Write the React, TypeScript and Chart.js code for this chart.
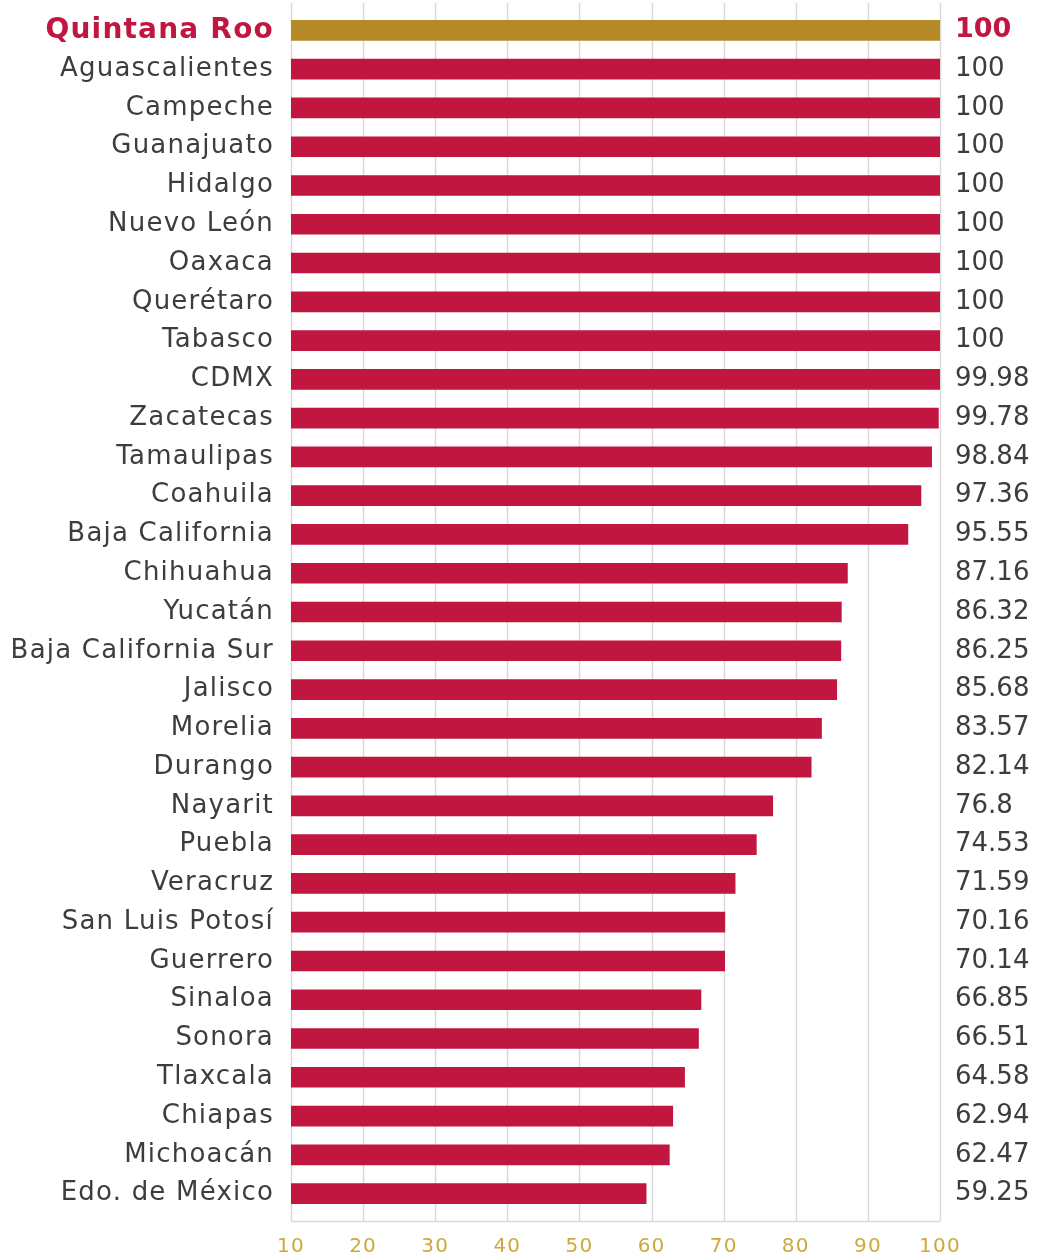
import React, { useEffect, useRef } from "react";
import { Chart, registerables } from "chart.js";

Chart.register(...registerables);

const states: string[] = [
  "Quintana Roo", "Aguascalientes", "Campeche", "Guanajuato", "Hidalgo", "Nuevo León",
  "Oaxaca", "Querétaro", "Tabasco", "CDMX", "Zacatecas", "Tamaulipas", "Coahuila",
  "Baja California", "Chihuahua", "Yucatán", "Baja California Sur", "Jalisco", "Morelia",
  "Durango", "Nayarit", "Puebla", "Veracruz", "San Luis Potosí", "Guerrero", "Sinaloa",
  "Sonora", "Tlaxcala", "Chiapas", "Michoacán", "Edo. de México",
];

const values: number[] = [
  100, 100, 100, 100, 100, 100, 100, 100, 100, 99.98, 99.78, 98.84, 97.36, 95.55,
  87.16, 86.32, 86.25, 85.68, 83.57, 82.14, 76.8, 74.53, 71.59, 70.16, 70.14, 66.85,
  66.51, 64.58, 62.94, 62.47, 59.25,
];

const valueLabels: string[] = [
  "100", "100", "100", "100", "100", "100", "100", "100", "100", "99.98", "99.78", "98.84",
  "97.36", "95.55", "87.16", "86.32", "86.25", "85.68", "83.57", "82.14", "76.8", "74.53",
  "71.59", "70.16", "70.14", "66.85", "66.51", "64.58", "62.94", "62.47", "59.25",
];

const xMin = 10;
const xMax = 100;
const xStep = 10;

const CRIMSON = "#C1163F";
const GOLD = "#B58A27";
const TEXT = "#3d3d3d";
const TICK_GOLD = "#CDA93C";
const FONT = "'DejaVu Sans', sans-serif";

export default function App() {
  const ref = useRef<HTMLCanvasElement | null>(null);

  useEffect(() => {
    if (!ref.current) return;

    const spacingPlugin = {
      id: "spacing",
      beforeDraw(chart: any) {
        chart.ctx.letterSpacing = "1.2px";
      },
    };

    const gridPlugin = {
      id: "customGrid",
      beforeDatasetsDraw(chart: any) {
        const { ctx, chartArea, scales } = chart;
        const xs = scales.x;
        ctx.save();
        ctx.strokeStyle = "#d9d9d9";
        ctx.lineWidth = 1.5;
        for (let v = xMin; v <= xMax; v += xStep) {
          const x = Math.round(xs.getPixelForValue(v)) + 0.5;
          ctx.beginPath();
          ctx.moveTo(x, chartArea.top - 8);
          ctx.lineTo(x, chartArea.bottom + 8);
          ctx.stroke();
        }
        ctx.beginPath();
        ctx.moveTo(xs.getPixelForValue(xMin), chartArea.bottom + 8.5);
        ctx.lineTo(xs.getPixelForValue(xMax), chartArea.bottom + 8.5);
        ctx.stroke();
        ctx.restore();
      },
    };

    const valuePlugin = {
      id: "valueLabels",
      afterDatasetsDraw(chart: any) {
        const { ctx, chartArea, scales } = chart;
        const ys = scales.y;
        ctx.save();
        ctx.letterSpacing = "0px";
        ctx.textAlign = "left";
        ctx.textBaseline = "middle";
        valueLabels.forEach((t, i) => {
          const y = ys.getPixelForValue(i);
          ctx.font = i === 0 ? `bold 27px ${FONT}` : `26px ${FONT}`;
          ctx.fillStyle = i === 0 ? CRIMSON : TEXT;
          ctx.fillText(t, chartArea.right + 15, y);
        });
        ctx.restore();
      },
    };

    const chart = new Chart(ref.current, {
      type: "bar",
      data: {
        labels: states,
        datasets: [
          {
            data: values,
            backgroundColor: states.map((_, i) => (i === 0 ? GOLD : CRIMSON)),
            borderWidth: 0,
            barThickness: 20,
          },
        ],
      },
      options: {
        indexAxis: "y",
        responsive: false,
        maintainAspectRatio: false,
        animation: false,
        devicePixelRatio: 1,
        layout: { padding: { top: 11, right: 100, left: 0, bottom: 0 } },
        plugins: {
          legend: { display: false },
          tooltip: { enabled: false },
          title: { display: false },
        },
        scales: {
          x: {
            type: "linear",
            min: xMin,
            max: xMax,
            grid: { display: false, drawTicks: false },
            border: { display: false },
            ticks: {
              stepSize: xStep,
              color: TICK_GOLD,
              padding: 22,
              font: { family: FONT, size: 20 },
            },
            afterFit(scale: any) {
              scale.height = 44;
              scale.paddingLeft = 0;
              scale.paddingRight = 0;
            },
          },
          y: {
            type: "category",
            grid: { display: false, drawTicks: false },
            border: { display: false },
            ticks: {
              autoSkip: false,
              padding: 17,
              color: (ctx: any) => (ctx.index === 0 ? CRIMSON : TEXT),
              font: (ctx: any) =>
                ctx.index === 0
                  ? { family: FONT, size: 28, weight: "bold" }
                  : { family: FONT, size: 26, weight: "normal" },
            },
            afterFit(scale: any) {
              scale.width = 291;
              scale.paddingTop = 0;
              scale.paddingBottom = 0;
            },
          },
        },
      },
      plugins: [spacingPlugin, gridPlugin, valuePlugin],
    });

    return () => chart.destroy();
  }, []);

  return (
    <div style={{ position: "absolute", left: 0, top: 0, width: 1040, height: 1257, background: "#fff" }}>
      <canvas ref={ref} width={1040} height={1257} style={{ width: 1040, height: 1257, display: "block" }} />
    </div>
  );
}
